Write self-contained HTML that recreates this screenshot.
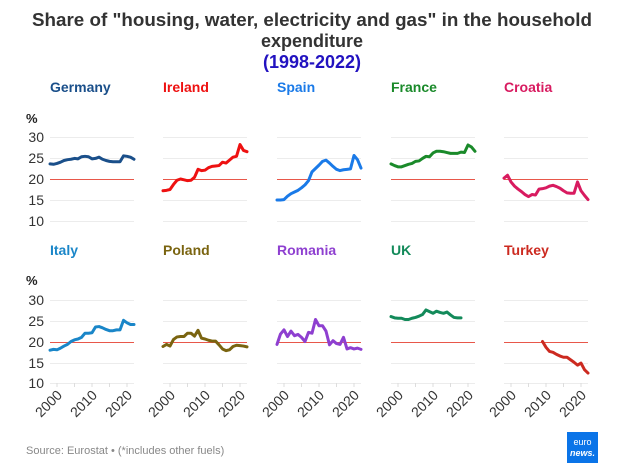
<!DOCTYPE html>
<html><head><meta charset="utf-8"><style>
html,body{margin:0;padding:0;background:#fff;}
svg{display:block;font-family:"Liberation Sans",sans-serif;}
.g{stroke:#ececec;stroke-width:1}
.r{stroke:#e8574a;stroke-width:1}
.ln{fill:none;stroke-width:3;stroke-linejoin:round;stroke-linecap:round;vector-effect:non-scaling-stroke}
.yl{font-size:14px;fill:#333;text-anchor:end}
.xl{font-size:14px;fill:#333;text-anchor:end}
.tt{font-size:14px;font-weight:bold}
</style></head><body>
<svg width="624" height="472" viewBox="0 0 624 472" xmlns="http://www.w3.org/2000/svg">
<text x="312" y="26" text-anchor="middle" font-size="18" font-weight="bold" fill="#333" textLength="560" lengthAdjust="spacingAndGlyphs">Share of "housing, water, electricity and gas" in the household</text>
<text x="312" y="47" text-anchor="middle" font-size="18" font-weight="bold" fill="#333">expenditure</text>
<text x="312" y="68" text-anchor="middle" font-size="18" font-weight="bold" fill="#2212c0">(1998-2022)</text>

<defs>
<g id="gridT">
<line class="g" x1="0" x2="84" y1="137.5" y2="137.5"/><line class="g" x1="0" x2="84" y1="158.5" y2="158.5"/>
<line class="g" x1="0" x2="84" y1="200.5" y2="200.5"/><line class="g" x1="0" x2="84" y1="221.5" y2="221.5"/>
<line class="r" x1="0" x2="84" y1="179.5" y2="179.5"/>
</g>
<g id="gridB">
<line class="g" x1="0" x2="84" y1="300.5" y2="300.5"/><line class="g" x1="0" x2="84" y1="321.5" y2="321.5"/>
<line class="g" x1="0" x2="84" y1="363.5" y2="363.5"/><line class="g" x1="0" x2="84" y1="383.5" y2="383.5"/>
<line class="r" x1="0" x2="84" y1="342.5" y2="342.5"/>
<g stroke="#ddd"><line x1="7" x2="7" y1="383" y2="387"/><line x1="24.5" x2="24.5" y1="383" y2="387"/><line x1="42" x2="42" y1="383" y2="387"/><line x1="59.5" x2="59.5" y1="383" y2="387"/><line x1="77" x2="77" y1="383" y2="387"/></g>
<text class="xl" transform="translate(13,396) rotate(-45)">2000</text>
<text class="xl" transform="translate(48,396) rotate(-45)">2010</text>
<text class="xl" transform="translate(83,396) rotate(-45)">2020</text>
</g>
</defs>

<text x="26" y="123" font-size="13" font-weight="bold" fill="#222">%</text>
<text class="yl" x="44" y="142">30</text><text class="yl" x="44" y="163">25</text><text class="yl" x="44" y="184">20</text><text class="yl" x="44" y="205">15</text><text class="yl" x="44" y="226">10</text>
<text x="26" y="285" font-size="13" font-weight="bold" fill="#222">%</text>
<text class="yl" x="44" y="305">30</text><text class="yl" x="44" y="326">25</text><text class="yl" x="44" y="347">20</text><text class="yl" x="44" y="368">15</text><text class="yl" x="44" y="388">10</text>

<g transform="translate(50,0)"><use href="#gridT"/><text class="tt" x="0" y="92" fill="#1a4f8a">Germany</text>
<polyline class="ln" stroke="#1a4f8a" transform="translate(0,263) scale(3.5,-4.2)" points="0,23.6 1,23.5 2,23.7 3,24 4,24.4 5,24.6 6,24.7 7,24.9 8,24.8 9,25.3 10,25.4 11,25.3 12,24.8 13,24.9 14,25.2 15,24.7 16,24.4 17,24.2 18,24.1 19,24.1 20,24.1 21,25.5 22,25.4 23,25.2 24,24.7"/></g>
<g transform="translate(163,0)"><use href="#gridT"/><text class="tt" x="0" y="92" fill="#ee1111">Ireland</text>
<polyline class="ln" stroke="#ee1111" transform="translate(0,263) scale(3.5,-4.2)" points="0,17.2 1,17.3 2,17.5 3,18.7 4,19.7 5,20 6,19.8 7,19.6 8,19.7 9,20.4 10,22.3 11,22 12,22.1 13,22.7 14,23 15,23.1 16,23.2 17,24 18,23.8 19,24.5 20,25.2 21,25.4 22,28.2 23,26.8 24,26.5"/></g>
<g transform="translate(277,0)"><use href="#gridT"/><text class="tt" x="0" y="92" fill="#1a7ae8">Spain</text>
<polyline class="ln" stroke="#1a7ae8" transform="translate(0,263) scale(3.5,-4.2)" points="0,15 1,15 2,15.1 3,15.9 4,16.5 5,16.9 6,17.3 7,17.9 8,18.6 9,19.6 10,21.7 11,22.5 12,23.3 13,24.2 14,24.5 15,23.8 16,23 17,22.3 18,22 19,22.2 20,22.3 21,22.4 22,25.6 23,24.6 24,22.6"/></g>
<g transform="translate(391,0)"><use href="#gridT"/><text class="tt" x="0" y="92" fill="#1a8a2a">France</text>
<polyline class="ln" stroke="#1a8a2a" transform="translate(0,263) scale(3.5,-4.2)" points="0,23.6 1,23.2 2,22.9 3,22.9 4,23.2 5,23.5 6,23.7 7,24.2 8,24.3 9,24.9 10,25.4 11,25.3 12,26.2 13,26.6 14,26.6 15,26.5 16,26.3 17,26.1 18,26.1 19,26.1 20,26.4 21,26.3 22,28.1 23,27.6 24,26.6"/></g>
<g transform="translate(504,0)"><use href="#gridT"/><text class="tt" x="0" y="92" fill="#d81b60">Croatia</text>
<polyline class="ln" stroke="#d81b60" transform="translate(0,263) scale(3.5,-4.2)" points="0,20.2 1,20.9 2,19.3 3,18.3 4,17.6 5,17 6,16.3 7,15.8 8,16.3 9,16.2 10,17.6 11,17.7 12,17.9 13,18.3 14,18.5 15,18.2 16,17.8 17,17.2 18,16.7 19,16.6 20,16.6 21,19.3 22,17.2 23,16.1 24,15.1"/></g>

<g transform="translate(50,0)"><use href="#gridB"/><text class="tt" x="0" y="255" fill="#1a86c8">Italy</text>
<polyline class="ln" stroke="#1a86c8" transform="translate(0,424.5) scale(3.5,-4.15)" points="0,17.9 1,18.1 2,18 3,18.4 4,18.9 5,19.3 6,20 7,20.4 8,20.6 9,21 10,22 11,22 12,22.1 13,23.5 14,23.6 15,23.3 16,22.9 17,22.6 18,22.6 19,22.8 20,22.8 21,25.1 22,24.5 23,24.1 24,24.1"/></g>
<g transform="translate(163,0)"><use href="#gridB"/><text class="tt" x="0" y="255" fill="#7a6410">Poland</text>
<polyline class="ln" stroke="#7a6410" transform="translate(0,424.5) scale(3.5,-4.15)" points="0,18.8 1,19.3 2,18.9 3,20.5 4,21.1 5,21.2 6,21.2 7,22 8,22 9,21.3 10,22.7 11,20.8 12,20.6 13,20.3 14,20.1 15,20.1 16,19.2 17,18.2 18,17.8 19,18 20,18.8 21,19.1 22,19 23,18.9 24,18.7"/></g>
<g transform="translate(277,0)"><use href="#gridB"/><text class="tt" x="0" y="255" fill="#8e3fd0">Romania</text>
<polyline class="ln" stroke="#8e3fd0" transform="translate(0,424.5) scale(3.5,-4.15)" points="0,19.3 1,21.8 2,22.8 3,21.2 4,22.5 5,21.4 6,21.7 7,21 8,20 9,22.2 10,22 11,25.3 12,23.8 13,23.8 14,22.5 15,19.2 16,20.2 17,19.5 18,19.3 19,21 20,18.2 21,18.5 22,18.2 23,18.4 24,18.1"/></g>
<g transform="translate(391,0)"><use href="#gridB"/><text class="tt" x="0" y="255" fill="#138a5a">UK</text>
<polyline class="ln" stroke="#138a5a" transform="translate(0,424.5) scale(3.5,-4.15)" points="0,26 1,25.7 2,25.6 3,25.6 4,25.3 5,25.3 6,25.6 7,25.8 8,26.1 9,26.5 10,27.6 11,27.2 12,26.8 13,27.3 14,27 15,26.8 16,27.1 17,26.4 18,25.8 19,25.7 20,25.7"/></g>
<g transform="translate(504,0)"><use href="#gridB"/><text class="tt" x="0" y="255" fill="#cc2a20">Turkey</text>
<polyline class="ln" stroke="#cc2a20" transform="translate(0,424.5) scale(3.5,-4.15)" points="11,20 12,18.6 13,17.6 14,17.4 15,16.9 16,16.5 17,16.2 18,16.2 19,15.6 20,15 21,14.3 22,14.8 23,13.2 24,12.4"/></g>

<text x="26" y="454" font-size="11" fill="#888">Source: Eurostat • (*includes other fuels)</text>
<rect x="567" y="432" width="31" height="31" fill="#0a74e8"/>
<text x="582.5" y="445" text-anchor="middle" font-size="9" fill="#fff">euro</text>
<text x="582.5" y="456" text-anchor="middle" font-size="9" font-weight="bold" font-style="italic" fill="#fff">news.</text>
</svg>
</body></html>
